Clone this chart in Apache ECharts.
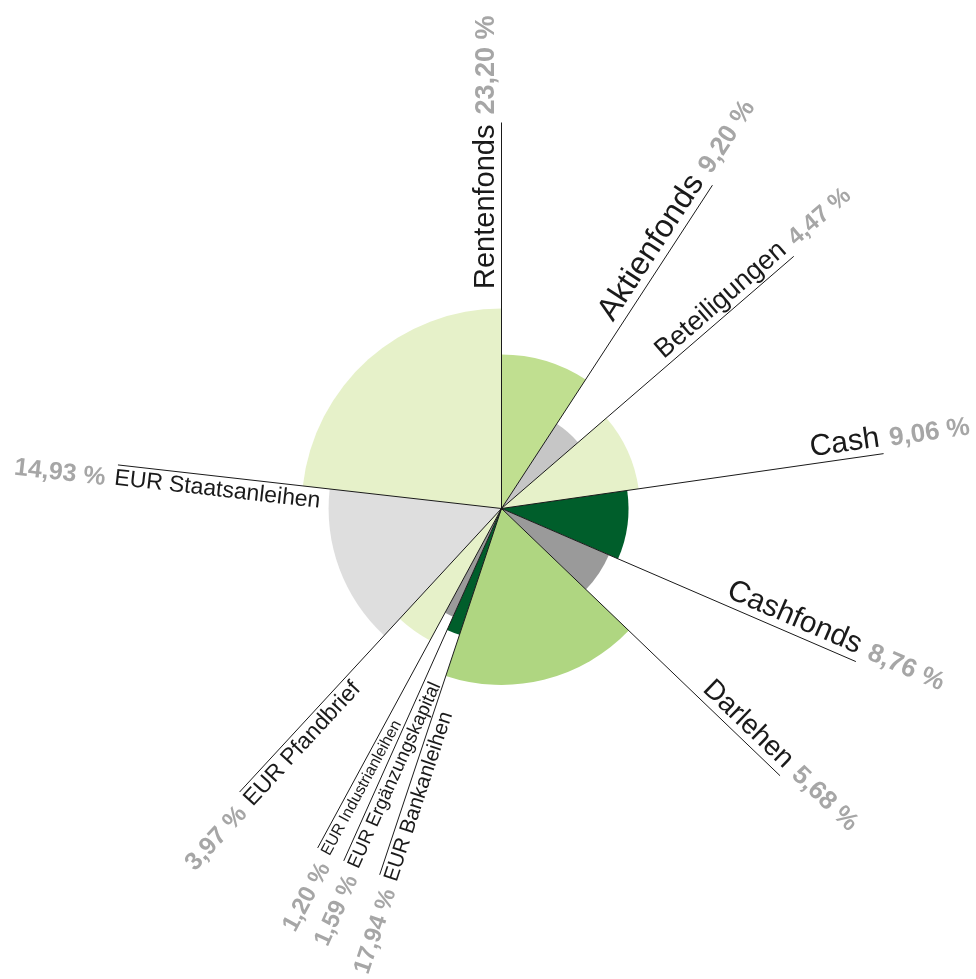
<!DOCTYPE html>
<html>
<head>
<meta charset="utf-8">
<title>Portfolio</title>
<script src="https://cdn.jsdelivr.net/npm/echarts@6/dist/echarts.min.js"></script>
<style>
  html, body { margin: 0; padding: 0; background: #ffffff; }
  #chart { width: 976px; height: 979px; }
</style>
</head>
<body>
<div id="chart"></div>
<script>
// Asset classes, clockwise from 12 o'clock
const categories = [
  'Aktienfonds', 'Beteiligungen', 'Cash', 'Cashfonds', 'Darlehen',
  'EUR Bankanleihen', 'EUR Ergänzungskapital', 'EUR Industrianleihen',
  'EUR Pfandbrief', 'EUR Staatsanleihen', 'Rentenfonds'
];
// Share of the portfolio in percent (sets the angle of each slice)
const shares = [9.20, 4.47, 9.06, 8.76, 5.68, 17.94, 1.59, 1.20, 3.97, 14.93, 23.20];
// Radial extent of each slice on the 0–100 radius scale
const radii = [39.9, 26.2, 35.9, 32.9, 30.3, 45.7, 34.5, 30.7, 38.9, 44.8, 51.8];

// Styling per slice
const colors = ['#c0df90', '#c6c6c6', '#e6f1c9', '#005e2b', '#9a9a9a',
  '#afd681', '#005e2b', '#9a9a9a', '#e6f1c9', '#dedede', '#e6f1c9'];
const nameSizes = [32, 27, 30, 30, 28, 21, 19, 16, 23, 23, 29];
const pctSizes = [26, 24, 26, 26, 26, 24, 24, 24, 25, 25, 27];

const FONT = '"Liberation Sans", Arial, Helvetica, sans-serif';
const LINE_R = 100; // label leader lines run to the edge of the radius axis

// cumulative start / end of each slice on the 0–100 angle scale
const rows = [];
let acc = 0;
shares.forEach(function (v, i) {
  rows.push([radii[i], acc, acc + v, v]);
  acc += v;
});

function pctText(v) {
  return v.toFixed(2).replace('.', ',') + ' %';
}

function renderItem(params, api) {
  const i = params.dataIndex;
  const cs = params.coordSys;
  const cx = cs.cx, cy = cs.cy;
  const r = api.value(0), a0 = api.value(1), a1 = api.value(2), v = api.value(3);

  const p0 = api.coord([r, a0]);
  const p1 = api.coord([r, a1]);
  const rPx = Math.hypot(p1[0] - cx, p1[1] - cy);
  let t0 = Math.atan2(p0[1] - cy, p0[0] - cx);
  let t1 = Math.atan2(p1[1] - cy, p1[0] - cx);
  if (t1 <= t0) t1 += Math.PI * 2;

  const pe = api.coord([LINE_R, a1]);
  const vx = pe[0] - cx, vy = pe[1] - cy;
  const dirAngle = -Math.atan2(vy, vx);
  const rightSide = vx > -1;

  const nameFont = 'normal ' + nameSizes[i] + 'px ' + FONT;
  const pctFont = 'bold ' + pctSizes[i] + 'px ' + FONT;

  let rotation, nameStyle, pctStyle;
  if (rightSide) {
    rotation = dirAngle;
    nameStyle = { x: -2, y: -1, align: 'right', verticalAlign: 'bottom' };
    pctStyle = { x: 8, y: -1, align: 'left', verticalAlign: 'bottom' };
  } else {
    rotation = dirAngle + Math.PI;
    nameStyle = { x: -2, y: 2, align: 'left', verticalAlign: 'top' };
    pctStyle = { x: -11, y: 2, align: 'right', verticalAlign: 'top' };
  }

  return {
    type: 'group',
    children: [
      {
        type: 'sector',
        shape: { cx: cx, cy: cy, r0: 0, r: rPx, startAngle: t0, endAngle: t1, clockwise: true },
        style: { fill: colors[i] },
        z2: 1
      },
      {
        type: 'line',
        shape: { x1: cx, y1: cy, x2: pe[0], y2: pe[1] },
        style: { stroke: '#1a1a1a', lineWidth: 1 },
        z2: 5
      },
      {
        type: 'text',
        x: pe[0], y: pe[1], rotation: rotation,
        style: Object.assign({ text: categories[i], font: nameFont, fill: '#1a1a1a' }, nameStyle),
        z2: 6
      },
      {
        type: 'text',
        x: pe[0], y: pe[1], rotation: rotation,
        style: Object.assign({ text: pctText(v), font: pctFont, fill: '#a6a6a6' }, pctStyle),
        z2: 6
      }
    ]
  };
}

const chart = echarts.init(document.getElementById('chart'), null, { renderer: 'canvas' });
chart.setOption({
  animation: false,
  backgroundColor: '#ffffff',
  polar: { center: [501.5, 508.5], radius: 386 },
  angleAxis: { type: 'value', min: 0, max: 100, startAngle: 90, clockwise: true, show: false },
  radiusAxis: { type: 'value', min: 0, max: 100, show: false },
  series: [{
    type: 'custom',
    coordinateSystem: 'polar',
    silent: true,
    encode: { radius: 0, angle: 2 },
    data: rows,
    renderItem: renderItem
  }]
});
</script>
</body>
</html>
